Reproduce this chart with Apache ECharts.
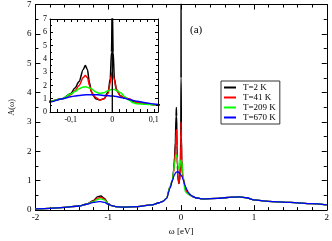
<!DOCTYPE html>
<html><head><meta charset="utf-8">
<script src="https://cdn.jsdelivr.net/npm/echarts@6/dist/echarts.min.js"></script>
<style>html,body{margin:0;padding:0;background:#fff}#c{width:332px;height:241px}</style>
</head><body><div id="c"></div>
<script>
var omega = [-2, -1.8, -1.6, -1.4, -1.3, -1.2, -1.15, -1.1, -1.05, -1.0, -0.95, -0.9, -0.8, -0.6, -0.4, -0.3, -0.25, -0.2, -0.15, -0.12, -0.1, -0.09, -0.08, -0.07, -0.065, -0.06, -0.055, -0.05, -0.045, -0.04, -0.03, -0.02, -0.01, -0.005, -0.002, 0, 0.002, 0.005, 0.01, 0.02, 0.03, 0.04, 0.05, 0.06, 0.08, 0.1, 0.12, 0.15, 0.2, 0.3, 0.5, 0.7, 0.8, 0.9, 1.0, 1.2, 1.5, 1.8, 2.0];
var T2 =   [0.04, 0.06, 0.09, 0.14, 0.2, 0.33, 0.45, 0.48, 0.4, 0.22, 0.15, 0.12, 0.1, 0.12, 0.18, 0.25, 0.3, 0.4, 0.8, 1.0, 1.4, 1.8, 2.3, 3.2, 3.5, 3.2, 2.2, 1.5, 1.2, 1.0, 0.9, 1.0, 1.5, 2.5, 4.5, 8.0, 4.5, 2.5, 1.7, 1.2, 1.05, 1.0, 0.8, 0.7, 0.6, 0.55, 0.52, 0.47, 0.42, 0.38, 0.4, 0.44, 0.45, 0.42, 0.35, 0.3, 0.26, 0.22, 0.18];
var T41 =  [0.04, 0.06, 0.09, 0.14, 0.2, 0.31, 0.41, 0.43, 0.37, 0.21, 0.15, 0.12, 0.1, 0.12, 0.18, 0.25, 0.3, 0.4, 0.8, 1.0, 1.3, 1.6, 2.0, 2.6, 2.75, 2.6, 2.0, 1.5, 1.25, 1.1, 0.9, 1.0, 1.4, 2.2, 2.8, 3.0, 2.8, 2.4, 1.6, 1.2, 1.05, 1.0, 0.85, 0.72, 0.62, 0.55, 0.52, 0.47, 0.42, 0.38, 0.4, 0.44, 0.45, 0.42, 0.35, 0.3, 0.26, 0.22, 0.18];
var T209 = [0.04, 0.06, 0.09, 0.14, 0.2, 0.29, 0.36, 0.38, 0.34, 0.2, 0.15, 0.12, 0.1, 0.12, 0.18, 0.25, 0.3, 0.4, 0.8, 1.0, 1.35, 1.55, 1.75, 1.88, 1.9, 1.87, 1.8, 1.75, 1.62, 1.5, 1.4, 1.45, 1.6, 1.67, 1.7, 1.7, 1.7, 1.7, 1.62, 1.45, 1.15, 0.9, 0.7, 0.62, 0.58, 0.55, 0.52, 0.47, 0.42, 0.38, 0.4, 0.44, 0.45, 0.42, 0.35, 0.3, 0.26, 0.22, 0.18];
var T670 = [0.04, 0.06, 0.09, 0.14, 0.2, 0.26, 0.28, 0.29, 0.26, 0.2, 0.15, 0.12, 0.1, 0.12, 0.18, 0.25, 0.3, 0.4, 0.75, 1.0, 1.15, 1.2, 1.25, 1.28, 1.29, 1.3, 1.3, 1.3, 1.3, 1.3, 1.28, 1.25, 1.22, 1.21, 1.2, 1.2, 1.2, 1.19, 1.16, 1.1, 1.03, 0.95, 0.87, 0.8, 0.7, 0.6, 0.54, 0.48, 0.42, 0.38, 0.4, 0.44, 0.45, 0.42, 0.35, 0.3, 0.26, 0.22, 0.18];
var seriesNames = ['T=2 K', 'T=41 K', 'T=209 K', 'T=670 K'];
var seriesColors = ['#000000', '#ff0000', '#00ff00', '#0000ff'];
var insetXLabels = ['-0,1', '0', '0,1'];
var insetZeroLine = 0;
var insetYRange = [0, 7];

var values = [T2, T41, T209, T670];
function pairs(ys){ return omega.map(function(x,i){ return [x, ys[i]]; }); }
var font = 'Liberation Serif';
var axisLine = {show:true, onZero:false, lineStyle:{color:'#000', width:1}};
function mainX(pos, showLab){
  return {gridIndex:0, type:'value', position:pos, min:-2, max:2, interval:1,
    axisLine:axisLine, axisTick:{show:true, inside:true, length:5, lineStyle:{color:'#000'}},
    minorTick:{show:true, splitNumber:5, length:3, lineStyle:{color:'#000'}},
    axisLabel:{show:showLab, color:'#000', fontFamily:font, fontSize:9, margin:3},
    splitLine:{show:false},
    name: showLab ? 'ω [eV]' : '', nameLocation:'middle', nameGap:12,
    nameTextStyle:{color:'#000', fontFamily:font, fontSize:9}};
}
function mainY(pos, showLab){
  return {gridIndex:0, type:'value', position:pos, min:0, max:7, interval:1,
    axisLine:axisLine, axisTick:{show:true, inside:true, length:5, lineStyle:{color:'#000'}},
    minorTick:{show:true, splitNumber:2, length:3, lineStyle:{color:'#000'}},
    axisLabel:{show:showLab, color:'#000', fontFamily:font, fontSize:9, margin:4},
    splitLine:{show:false},
    name: showLab ? 'A(ω)' : '', nameLocation:'middle', nameGap:10,
    nameTextStyle:{color:'#000', fontFamily:font, fontSize:8}};
}
function insetX(pos, showLab){
  return {gridIndex:1, type:'value', position:pos, min:-0.15, max:0.11, interval:0.05, z:12,
    axisLine:axisLine, axisTick:{show:true, inside:true, length:3, lineStyle:{color:'#000'}},
    minorTick:{show:true, splitNumber:3, length:3, lineStyle:{color:'#000'}},
    axisLabel:{show:showLab, color:'#000', fontFamily:font, fontSize:8, margin:4, showMinLabel:false, showMaxLabel:false,
      formatter:function(v){ var r=Math.round(v*100); if(r===-10) return insetXLabels[0]; if(r===0) return insetXLabels[1]; if(r===10) return insetXLabels[2]; return ''; }},
    splitLine:{show:false}};
}
function insetY(pos, showLab){
  return {gridIndex:1, type:'value', position:pos, min:0, max:7, interval:1, z:12,
    axisLine:axisLine, axisTick:{show:true, inside:true, length:3, lineStyle:{color:'#000'}},
    minorTick:{show:true, splitNumber:2, length:2, lineStyle:{color:'#000'}},
    axisLabel:{show:showLab, color:'#000', fontFamily:font, fontSize:8, margin:3},
    splitLine:{show:false}};
}
var series = [];
for (var g=0; g<2; g++){
  for (var i=0;i<4;i++){
    var s = {type:'line', name:seriesNames[i], xAxisIndex: g===0?0:2, yAxisIndex: g===0?0:2,
      data:pairs(values[i]), showSymbol:false, smooth:0.3, smoothMonotone:'x', clip:true, animation:false,
      lineStyle:{color:seriesColors[i], width: g===0?1.3:1.5}, itemStyle:{color:seriesColors[i]}, z: g===0?2:10};
    series.push(s);
  }
}
series.push({type:'line', xAxisIndex:2, yAxisIndex:2, z:11, showSymbol:false, animation:false, silent:true,
  data:[[insetZeroLine, insetYRange[0]], [insetZeroLine, insetYRange[1]]],
  lineStyle:{color:'#000', width:1.3}, itemStyle:{color:'#000'}});
var chart = echarts.init(document.getElementById('c'), null, {renderer:'canvas'});
chart.setOption({
  animation:false,
  backgroundColor:'#fff',
  title:{text:'(a)', left:185, top:20, textStyle:{fontFamily:font, fontSize:11, fontWeight:'normal', color:'#000'}},
  grid:[{left:19, right:3, top:3, bottom:21.5, show:false},
        {left:50, top:19, width:108, height:93, show:true, backgroundColor:'#fff', borderWidth:0, z:5}],
  xAxis:[mainX('bottom',true), mainX('top',false), insetX('bottom',true), insetX('top',false)],
  yAxis:[mainY('left',true), mainY('right',false), insetY('left',true), insetY('right',false)],
  legend:{data:seriesNames, orient:'vertical', left:221, top:81, width:57, padding:[2,4,2,3],
    borderColor:'#333', borderWidth:1, backgroundColor:'#fff', itemWidth:12, itemHeight:2, itemGap:1,
    icon:'rect', textStyle:{fontFamily:font, fontSize:9, color:'#000', padding:[0,0,0,2], lineHeight:8}},
  series:series
});
</script></body></html>
